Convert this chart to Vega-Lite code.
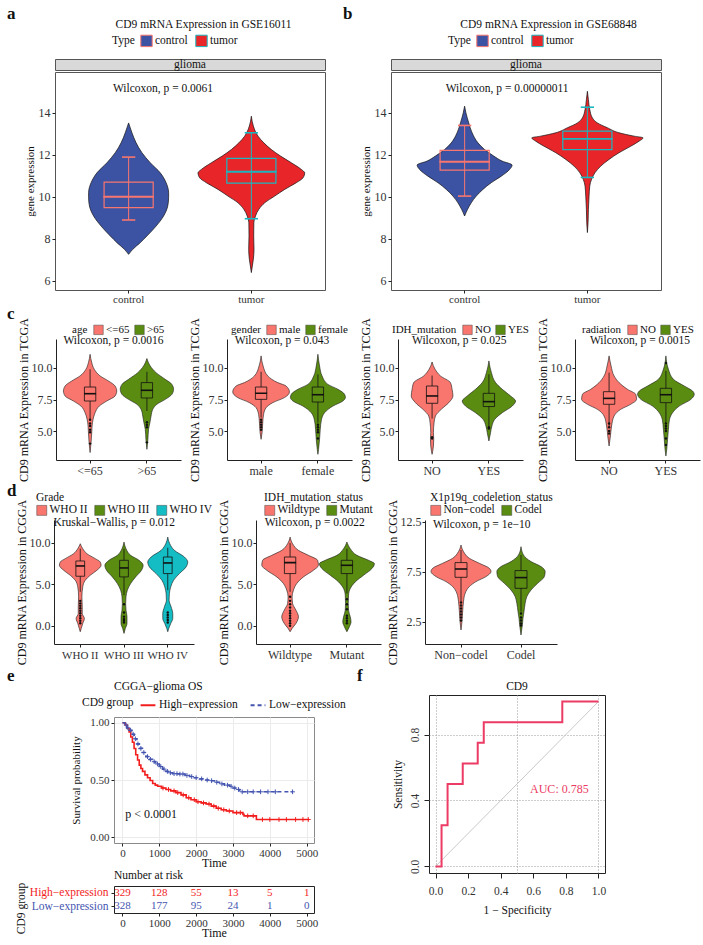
{
"$schema": "https://vega.github.io/schema/vega-lite/v6.json",
"background": "white",
"padding": {"left": 6, "top": 4, "right": 4, "bottom": 2},
"config": {
  "font": "Liberation Serif",
  "view": {"stroke": null},
  "axis": {"labelFont": "Liberation Serif", "titleFont": "Liberation Serif", "labelFontSize": 11.5, "titleFontSize": 11.5, "titleFontWeight": "normal", "labelColor": "#333333", "titleColor": "#111111", "domainColor": "#222222", "tickColor": "#222222", "grid": false, "labelPadding": 2, "titlePadding": 3, "tickSize": 3},
  "legend": {"labelFont": "Liberation Serif", "titleFont": "Liberation Serif", "labelFontSize": 11.5, "titleFontSize": 11.5, "titleFontWeight": "normal", "labelColor": "#111111", "titleColor": "#111111", "orient": "top", "direction": "horizontal", "titleOrient": "left", "padding": 0, "offset": 3, "columnPadding": 5, "labelOffset": 2, "titlePadding": 5, "layout": {"top": {"anchor": "middle"}}},
  "title": {"font": "Liberation Serif", "fontSize": 11.5, "fontWeight": "normal", "color": "#111111", "offset": 4},
  "text": {"font": "Liberation Serif", "color": "#111111"}
},
"datasets": {
  "sp": [{"s": ""}],
  "av": [
    {"g":"control","v":13.52,"w":0},{"g":"control","v":13.05,"w":6.7},{"g":"control","v":12.57,"w":15},{"g":"control","v":12.10,"w":26.7},{"g":"control","v":11.62,"w":43.3},{"g":"control","v":11.14,"w":63.3},{"g":"control","v":10.67,"w":75},{"g":"control","v":10.19,"w":80},{"g":"control","v":9.95,"w":80},{"g":"control","v":9.56,"w":78.3},{"g":"control","v":9.08,"w":70},{"g":"control","v":8.60,"w":55},{"g":"control","v":8.13,"w":36.7},{"g":"control","v":7.81,"w":23.3},{"g":"control","v":7.49,"w":8.3},{"g":"control","v":7.25,"w":0},
    {"g":"tumor","v":13.84,"w":0},{"g":"tumor","v":13.37,"w":4},{"g":"tumor","v":12.89,"w":13.3},{"g":"tumor","v":12.57,"w":25},{"g":"tumor","v":12.25,"w":40},{"g":"tumor","v":11.94,"w":58.3},{"g":"tumor","v":11.62,"w":80},{"g":"tumor","v":11.30,"w":100},{"g":"tumor","v":11.14,"w":106.7},{"g":"tumor","v":10.90,"w":103.3},{"g":"tumor","v":10.67,"w":90},{"g":"tumor","v":10.35,"w":66.7},{"g":"tumor","v":10.03,"w":46.7},{"g":"tumor","v":9.71,"w":26.7},{"g":"tumor","v":9.40,"w":15},{"g":"tumor","v":9.08,"w":8.3},{"g":"tumor","v":8.76,"w":5},{"g":"tumor","v":8.13,"w":4.7},{"g":"tumor","v":7.49,"w":5.3},{"g":"tumor","v":7.02,"w":4},{"g":"tumor","v":6.70,"w":2},{"g":"tumor","v":6.38,"w":0}
  ],
  "ab": [{"g":"control","lo":8.89,"q1":9.48,"med":10.0,"q3":10.70,"hi":11.89},{"g":"tumor","lo":8.95,"q1":10.65,"med":11.19,"q3":11.83,"hi":13.05}],
  "at": [{"label":"Wilcoxon, p = 0.0061","ly":15.14}],
  "bv": [
    {"g":"control","v":14.32,"w":0},{"g":"control","v":14.0,"w":2.7},{"g":"control","v":13.52,"w":8.3},{"g":"control","v":13.05,"w":15},{"g":"control","v":12.57,"w":26.7},{"g":"control","v":12.25,"w":40},{"g":"control","v":11.94,"w":58.3},{"g":"control","v":11.70,"w":75},{"g":"control","v":11.51,"w":95},{"g":"control","v":11.30,"w":90},{"g":"control","v":10.98,"w":73.3},{"g":"control","v":10.67,"w":53.3},{"g":"control","v":10.35,"w":36.7},{"g":"control","v":10.03,"w":23.3},{"g":"control","v":9.71,"w":13.3},{"g":"control","v":9.40,"w":6},{"g":"control","v":9.08,"w":0},
    {"g":"tumor","v":15.03,"w":0},{"g":"tumor","v":14.63,"w":2},{"g":"tumor","v":14.16,"w":4.7},{"g":"tumor","v":13.76,"w":10},{"g":"tumor","v":13.52,"w":20},{"g":"tumor","v":13.29,"w":40},{"g":"tumor","v":13.05,"w":63.3},{"g":"tumor","v":12.89,"w":93.3},{"g":"tumor","v":12.81,"w":111.3},{"g":"tumor","v":12.65,"w":103.3},{"g":"tumor","v":12.41,"w":86.7},{"g":"tumor","v":12.10,"w":63.3},{"g":"tumor","v":11.78,"w":43.3},{"g":"tumor","v":11.46,"w":26.7},{"g":"tumor","v":11.14,"w":15},{"g":"tumor","v":10.83,"w":8.3},{"g":"tumor","v":10.51,"w":4.7},{"g":"tumor","v":10.03,"w":3.3},{"g":"tumor","v":9.40,"w":2},{"g":"tumor","v":8.76,"w":1.3},{"g":"tumor","v":8.29,"w":0}
  ],
  "bb": [{"g":"control","lo":10.03,"q1":11.27,"med":11.67,"q3":12.21,"hi":13.40},{"g":"tumor","lo":10.92,"q1":12.25,"med":12.76,"q3":13.13,"hi":14.27}],
  "bt": [{"label":"Wilcoxon, p = 0.00000011","ly":15.14}],
  "c1v": [
    {"g":"<=65","v":11.09,"w":0},{"g":"<=65","v":10.43,"w":3.3},{"g":"<=65","v":9.90,"w":8.3},{"g":"<=65","v":9.37,"w":20},{"g":"<=65","v":8.97,"w":36.7},{"g":"<=65","v":8.57,"w":50},{"g":"<=65","v":8.17,"w":53.3},{"g":"<=65","v":7.78,"w":50},{"g":"<=65","v":7.38,"w":33.3},{"g":"<=65","v":6.98,"w":18.3},{"g":"<=65","v":6.45,"w":10},{"g":"<=65","v":5.93,"w":6},{"g":"<=65","v":5.40,"w":4},{"g":"<=65","v":4.87,"w":3.3},{"g":"<=65","v":4.08,"w":2},{"g":"<=65","v":3.29,"w":0},
    {"g":">65","v":10.75,"w":0},{"g":">65","v":10.16,"w":6.7},{"g":">65","v":9.63,"w":18.3},{"g":">65","v":9.10,"w":36.7},{"g":">65","v":8.70,"w":50},{"g":">65","v":8.31,"w":53.3},{"g":">65","v":7.91,"w":50},{"g":">65","v":7.51,"w":36.7},{"g":">65","v":7.12,"w":20},{"g":">65","v":6.72,"w":11.7},{"g":">65","v":6.19,"w":8.3},{"g":">65","v":5.66,"w":6},{"g":">65","v":5.13,"w":3.3},{"g":">65","v":4.34,"w":2},{"g":">65","v":3.55,"w":0}
  ],
  "c1b": [{"g":"<=65","lo":5.93,"q1":7.38,"med":7.96,"q3":8.49,"hi":9.9},{"g":">65","lo":6.59,"q1":7.62,"med":8.23,"q3":8.84,"hi":9.7}],
  "c1o": [{"g":"<=65","v":5.9},{"g":"<=65","v":5.6},{"g":"<=65","v":5.4},{"g":"<=65","v":5.1},{"g":"<=65","v":4.9},{"g":"<=65","v":4.0},{"g":">65","v":5.7},{"g":">65","v":5.5},{"g":">65","v":5.3},{"g":">65","v":4.1}],
  "c1t": [{"label":"Wilcoxon, p = 0.0016","ly":12.14}],
  "c2v": [
    {"g":"male","v":10.96,"w":0},{"g":"male","v":10.16,"w":4},{"g":"male","v":9.37,"w":13.3},{"g":"male","v":8.84,"w":33.3},{"g":"male","v":8.57,"w":50},{"g":"male","v":8.10,"w":56.7},{"g":"male","v":7.65,"w":46.7},{"g":"male","v":7.25,"w":23.3},{"g":"male","v":6.85,"w":10},{"g":"male","v":6.32,"w":5},{"g":"male","v":5.66,"w":3.3},{"g":"male","v":4.87,"w":2},{"g":"male","v":4.34,"w":0},
    {"g":"female","v":11.09,"w":0},{"g":"female","v":10.16,"w":3.3},{"g":"female","v":9.37,"w":8.3},{"g":"female","v":8.70,"w":20},{"g":"female","v":8.31,"w":40},{"g":"female","v":7.91,"w":53.3},{"g":"female","v":7.65,"w":55},{"g":"female","v":7.38,"w":50},{"g":"female","v":6.98,"w":30},{"g":"female","v":6.45,"w":13.3},{"g":"female","v":5.93,"w":7.3},{"g":"female","v":5.13,"w":4.7},{"g":"female","v":4.34,"w":3.3},{"g":"female","v":3.55,"w":1.3},{"g":"female","v":3.15,"w":0}
  ],
  "c2b": [{"g":"male","lo":6.06,"q1":7.51,"med":7.99,"q3":8.49,"hi":9.7},{"g":"female","lo":5.66,"q1":7.30,"med":7.88,"q3":8.49,"hi":9.5}],
  "c2o": [{"g":"male","v":5.9},{"g":"male","v":5.7},{"g":"male","v":5.5},{"g":"male","v":5.3},{"g":"male","v":5.1},{"g":"female","v":5.5},{"g":"female","v":5.3},{"g":"female","v":5.1},{"g":"female","v":4.9},{"g":"female","v":4.4}],
  "c2t": [{"label":"Wilcoxon, p = 0.043","ly":12.14}],
  "c3v": [
    {"g":"NO","v":10.48,"w":0},{"g":"NO","v":9.90,"w":6},{"g":"NO","v":9.37,"w":16.7},{"g":"NO","v":8.84,"w":36.7},{"g":"NO","v":8.31,"w":40},{"g":"NO","v":7.78,"w":41.7},{"g":"NO","v":7.25,"w":33.3},{"g":"NO","v":6.72,"w":18.3},{"g":"NO","v":6.19,"w":6.7},{"g":"NO","v":5.66,"w":4},{"g":"NO","v":4.87,"w":2.7},{"g":"NO","v":4.34,"w":3.3},{"g":"NO","v":3.81,"w":2.7},{"g":"NO","v":3.15,"w":0},
    {"g":"YES","v":10.56,"w":0},{"g":"YES","v":9.63,"w":5},{"g":"YES","v":8.84,"w":13.3},{"g":"YES","v":8.31,"w":26.7},{"g":"YES","v":7.78,"w":43.3},{"g":"YES","v":7.38,"w":53.3},{"g":"YES","v":6.98,"w":46.7},{"g":"YES","v":6.45,"w":26.7},{"g":"YES","v":5.93,"w":11.7},{"g":"YES","v":5.40,"w":6},{"g":"YES","v":4.87,"w":3.3},{"g":"YES","v":4.21,"w":0}
  ],
  "c3b": [{"g":"NO","lo":5.98,"q1":7.20,"med":7.78,"q3":8.57,"hi":9.4},{"g":"YES","lo":5.40,"q1":6.94,"med":7.33,"q3":7.99,"hi":9.5}],
  "c3o": [{"g":"NO","v":4.5},{"g":"NO","v":4.4},{"g":"YES","v":5.3},{"g":"YES","v":5.2}],
  "c3t": [{"label":"Wilcoxon, p = 0.025","ly":12.14}],
  "c4v": [
    {"g":"NO","v":10.96,"w":0},{"g":"NO","v":10.16,"w":4},{"g":"NO","v":9.37,"w":10},{"g":"NO","v":8.84,"w":20},{"g":"NO","v":8.31,"w":36.7},{"g":"NO","v":7.91,"w":53.3},{"g":"NO","v":7.51,"w":55},{"g":"NO","v":7.12,"w":43.3},{"g":"NO","v":6.72,"w":23.3},{"g":"NO","v":6.19,"w":10},{"g":"NO","v":5.40,"w":5},{"g":"NO","v":4.61,"w":2.7},{"g":"NO","v":3.81,"w":0},
    {"g":"YES","v":10.96,"w":0},{"g":"YES","v":9.90,"w":5},{"g":"YES","v":9.10,"w":15},{"g":"YES","v":8.57,"w":36.7},{"g":"YES","v":8.17,"w":53.3},{"g":"YES","v":7.91,"w":56.7},{"g":"YES","v":7.51,"w":50},{"g":"YES","v":6.98,"w":26.7},{"g":"YES","v":6.45,"w":13.3},{"g":"YES","v":5.93,"w":7.3},{"g":"YES","v":5.13,"w":5},{"g":"YES","v":4.34,"w":3.3},{"g":"YES","v":3.55,"w":1.7},{"g":"YES","v":3.02,"w":0}
  ],
  "c4b": [{"g":"NO","lo":5.40,"q1":7.12,"med":7.59,"q3":8.12,"hi":9.63},{"g":"YES","lo":5.66,"q1":7.25,"med":7.88,"q3":8.39,"hi":9.77}],
  "c4o": [{"g":"NO","v":5.6},{"g":"NO","v":5.3},{"g":"NO","v":5.0},{"g":"NO","v":4.8},{"g":"YES","v":5.6},{"g":"YES","v":5.4},{"g":"YES","v":5.2},{"g":"YES","v":5.0},{"g":"YES","v":4.4},{"g":"YES","v":3.9},{"g":"YES","v":10.4}],
  "c4t": [{"label":"Wilcoxon, p = 0.0015","ly":12.14}],
  "d1v": [
    {"g":"WHO II","v":9.89,"w":0},{"g":"WHO II","v":9.29,"w":5},{"g":"WHO II","v":8.69,"w":13.3},{"g":"WHO II","v":8.09,"w":30},{"g":"WHO II","v":7.69,"w":40},{"g":"WHO II","v":7.29,"w":41.7},{"g":"WHO II","v":6.69,"w":33.3},{"g":"WHO II","v":6.09,"w":20},{"g":"WHO II","v":5.49,"w":10},{"g":"WHO II","v":4.69,"w":5},{"g":"WHO II","v":3.49,"w":3.3},{"g":"WHO II","v":2.28,"w":4},{"g":"WHO II","v":1.48,"w":4},{"g":"WHO II","v":0.88,"w":8.3},{"g":"WHO II","v":0.28,"w":5},{"g":"WHO II","v":-0.32,"w":2},{"g":"WHO II","v":-0.72,"w":0},
    {"g":"WHO III","v":10.09,"w":0},{"g":"WHO III","v":9.29,"w":4},{"g":"WHO III","v":8.49,"w":13.3},{"g":"WHO III","v":7.89,"w":30},{"g":"WHO III","v":7.29,"w":38.3},{"g":"WHO III","v":6.69,"w":35},{"g":"WHO III","v":5.89,"w":23.3},{"g":"WHO III","v":5.09,"w":13.3},{"g":"WHO III","v":4.29,"w":6.7},{"g":"WHO III","v":3.49,"w":4},{"g":"WHO III","v":2.68,"w":3.3},{"g":"WHO III","v":1.88,"w":4},{"g":"WHO III","v":1.08,"w":6},{"g":"WHO III","v":0.28,"w":6},{"g":"WHO III","v":-0.32,"w":2.7},{"g":"WHO III","v":-0.92,"w":0},
    {"g":"WHO IV","v":10.69,"w":0},{"g":"WHO IV","v":9.89,"w":4},{"g":"WHO IV","v":9.09,"w":13.3},{"g":"WHO IV","v":8.29,"w":33.3},{"g":"WHO IV","v":7.69,"w":40},{"g":"WHO IV","v":7.09,"w":36.7},{"g":"WHO IV","v":6.29,"w":23.3},{"g":"WHO IV","v":5.49,"w":11.7},{"g":"WHO IV","v":4.69,"w":6},{"g":"WHO IV","v":3.89,"w":3.3},{"g":"WHO IV","v":3.09,"w":2.7},{"g":"WHO IV","v":2.28,"w":6.7},{"g":"WHO IV","v":1.48,"w":10},{"g":"WHO IV","v":0.88,"w":10},{"g":"WHO IV","v":0.28,"w":6},{"g":"WHO IV","v":-0.32,"w":2},{"g":"WHO IV","v":-0.72,"w":0}
  ],
  "d1b": [{"g":"WHO II","lo":4.09,"q1":5.97,"med":7.21,"q3":7.81,"hi":9.29},{"g":"WHO III","lo":3.69,"q1":5.89,"med":6.97,"q3":7.89,"hi":9.29},{"g":"WHO IV","lo":4.29,"q1":6.29,"med":7.57,"q3":8.29,"hi":9.41}],
  "d1o": [{"g":"WHO II","v":3.0},{"g":"WHO II","v":2.7},{"g":"WHO II","v":2.4},{"g":"WHO II","v":2.1},{"g":"WHO II","v":1.8},{"g":"WHO II","v":1.5},{"g":"WHO II","v":1.2},{"g":"WHO II","v":0.9},{"g":"WHO II","v":0.6},{"g":"WHO II","v":0.3},{"g":"WHO III","v":2.6},{"g":"WHO III","v":1.6},{"g":"WHO III","v":1.1},{"g":"WHO III","v":0.8},{"g":"WHO III","v":0.6},{"g":"WHO III","v":0.4},{"g":"WHO IV","v":1.6},{"g":"WHO IV","v":1.3},{"g":"WHO IV","v":1.0},{"g":"WHO IV","v":0.7},{"g":"WHO IV","v":0.4}],
  "d1t": [{"label":"Kruskal−Wallis, p = 0.012","ly":12.4}],
  "d2v": [
    {"g":"Wildtype","v":10.69,"w":0},{"g":"Wildtype","v":9.89,"w":5},{"g":"Wildtype","v":9.09,"w":16.7},{"g":"Wildtype","v":8.49,"w":36.7},{"g":"Wildtype","v":7.89,"w":55},{"g":"Wildtype","v":7.29,"w":56.7},{"g":"Wildtype","v":6.69,"w":46.7},{"g":"Wildtype","v":5.89,"w":26.7},{"g":"Wildtype","v":5.09,"w":13.3},{"g":"Wildtype","v":4.29,"w":6.7},{"g":"Wildtype","v":3.49,"w":4},{"g":"Wildtype","v":2.68,"w":5},{"g":"Wildtype","v":1.88,"w":11.7},{"g":"Wildtype","v":1.08,"w":16.7},{"g":"Wildtype","v":0.28,"w":11.7},{"g":"Wildtype","v":-0.32,"w":4},{"g":"Wildtype","v":-0.72,"w":0},
    {"g":"Mutant","v":10.09,"w":0},{"g":"Mutant","v":9.29,"w":6.7},{"g":"Mutant","v":8.49,"w":20},{"g":"Mutant","v":7.89,"w":43.3},{"g":"Mutant","v":7.49,"w":55},{"g":"Mutant","v":6.89,"w":50},{"g":"Mutant","v":6.09,"w":33.3},{"g":"Mutant","v":5.29,"w":16.7},{"g":"Mutant","v":4.49,"w":6.7},{"g":"Mutant","v":3.69,"w":3.3},{"g":"Mutant","v":2.68,"w":2.7},{"g":"Mutant","v":1.88,"w":3.3},{"g":"Mutant","v":1.08,"w":6.7},{"g":"Mutant","v":0.48,"w":8.3},{"g":"Mutant","v":-0.12,"w":5},{"g":"Mutant","v":-0.72,"w":0}
  ],
  "d2b": [{"g":"Wildtype","lo":4.09,"q1":6.29,"med":7.61,"q3":8.29,"hi":9.97},{"g":"Mutant","lo":3.89,"q1":6.29,"med":7.29,"q3":7.89,"hi":9.29}],
  "d2o": [{"g":"Wildtype","v":3.5},{"g":"Wildtype","v":3.0},{"g":"Wildtype","v":2.6},{"g":"Wildtype","v":2.2},{"g":"Wildtype","v":1.8},{"g":"Wildtype","v":1.5},{"g":"Wildtype","v":1.2},{"g":"Wildtype","v":0.9},{"g":"Wildtype","v":0.6},{"g":"Wildtype","v":0.3},{"g":"Wildtype","v":0.0},{"g":"Mutant","v":3.2},{"g":"Mutant","v":2.6},{"g":"Mutant","v":2.0},{"g":"Mutant","v":1.2},{"g":"Mutant","v":0.9},{"g":"Mutant","v":0.6},{"g":"Mutant","v":0.3}],
  "d2t": [{"label":"Wilcoxon, p = 0.0022","ly":12.4}],
  "d3v": [
    {"g":"Non−codel","v":10.16,"w":0},{"g":"Non−codel","v":9.50,"w":5},{"g":"Non−codel","v":8.83,"w":16.7},{"g":"Non−codel","v":8.33,"w":36.7},{"g":"Non−codel","v":7.83,"w":56.7},{"g":"Non−codel","v":7.50,"w":60},{"g":"Non−codel","v":7.0,"w":50},{"g":"Non−codel","v":6.50,"w":30},{"g":"Non−codel","v":6.0,"w":16.7},{"g":"Non−codel","v":5.33,"w":8.3},{"g":"Non−codel","v":4.50,"w":5},{"g":"Non−codel","v":3.50,"w":3.3},{"g":"Non−codel","v":2.50,"w":2},{"g":"Non−codel","v":1.66,"w":0},
    {"g":"Codel","v":9.99,"w":0},{"g":"Codel","v":9.16,"w":5},{"g":"Codel","v":8.50,"w":20},{"g":"Codel","v":8.0,"w":40},{"g":"Codel","v":7.50,"w":48.3},{"g":"Codel","v":7.0,"w":46.7},{"g":"Codel","v":6.33,"w":33.3},{"g":"Codel","v":5.66,"w":20},{"g":"Codel","v":5.0,"w":11.7},{"g":"Codel","v":4.33,"w":8.3},{"g":"Codel","v":3.50,"w":6},{"g":"Codel","v":2.83,"w":4},{"g":"Codel","v":2.16,"w":2.7},{"g":"Codel","v":1.16,"w":0}
  ],
  "d3b": [{"g":"Non−codel","lo":4.5,"q1":6.93,"med":7.76,"q3":8.40,"hi":9.66},{"g":"Codel","lo":3.5,"q1":5.83,"med":6.90,"q3":7.60,"hi":9.16}],
  "d3o": [{"g":"Non−codel","v":4.4},{"g":"Non−codel","v":4.1},{"g":"Non−codel","v":3.8},{"g":"Non−codel","v":3.5},{"g":"Non−codel","v":3.2},{"g":"Non−codel","v":2.9},{"g":"Non−codel","v":2.6},{"g":"Codel","v":3.3},{"g":"Codel","v":2.9},{"g":"Codel","v":2.6},{"g":"Codel","v":2.3},{"g":"Codel","v":2.1}],
  "d3t": [{"label":"Wilcoxon, p = 1e−10","ly":12.2}],
  "km": [
    {"grp":"High−expression","t":0,"s":1.0},{"grp":"High−expression","t":73,"s":0.98},{"grp":"High−expression","t":130,"s":0.95},{"grp":"High−expression","t":180,"s":0.92},{"grp":"High−expression","t":225,"s":0.875},{"grp":"High−expression","t":270,"s":0.83},{"grp":"High−expression","t":315,"s":0.775},{"grp":"High−expression","t":360,"s":0.72},{"grp":"High−expression","t":410,"s":0.675},{"grp":"High−expression","t":455,"s":0.63},{"grp":"High−expression","t":500,"s":0.60},{"grp":"High−expression","t":545,"s":0.575},{"grp":"High−expression","t":610,"s":0.545},{"grp":"High−expression","t":680,"s":0.52},{"grp":"High−expression","t":750,"s":0.495},{"grp":"High−expression","t":820,"s":0.47},{"grp":"High−expression","t":890,"s":0.455},{"grp":"High−expression","t":955,"s":0.445},{"grp":"High−expression","t":1060,"s":0.43},{"grp":"High−expression","t":1180,"s":0.417},{"grp":"High−expression","t":1310,"s":0.405},{"grp":"High−expression","t":1450,"s":0.39},{"grp":"High−expression","t":1590,"s":0.37},{"grp":"High−expression","t":1730,"s":0.345},{"grp":"High−expression","t":1860,"s":0.328},{"grp":"High−expression","t":2000,"s":0.31},{"grp":"High−expression","t":2135,"s":0.30},{"grp":"High−expression","t":2270,"s":0.29},{"grp":"High−expression","t":2410,"s":0.272},{"grp":"High−expression","t":2545,"s":0.253},{"grp":"High−expression","t":2680,"s":0.24},{"grp":"High−expression","t":2820,"s":0.23},{"grp":"High−expression","t":3000,"s":0.215},{"grp":"High−expression","t":3270,"s":0.20},{"grp":"High−expression","t":3300,"s":0.187},{"grp":"High−expression","t":3636,"s":0.155},{"grp":"High−expression","t":5045,"s":0.155},
    {"grp":"Low−expression","t":0,"s":1.0},{"grp":"Low−expression","t":60,"s":0.98},{"grp":"Low−expression","t":120,"s":0.955},{"grp":"Low−expression","t":180,"s":0.934},{"grp":"Low−expression","t":250,"s":0.90},{"grp":"Low−expression","t":320,"s":0.86},{"grp":"Low−expression","t":390,"s":0.815},{"grp":"Low−expression","t":455,"s":0.776},{"grp":"Low−expression","t":540,"s":0.74},{"grp":"Low−expression","t":636,"s":0.704},{"grp":"Low−expression","t":720,"s":0.68},{"grp":"Low−expression","t":818,"s":0.66},{"grp":"Low−expression","t":900,"s":0.64},{"grp":"Low−expression","t":1000,"s":0.618},{"grp":"Low−expression","t":1090,"s":0.595},{"grp":"Low−expression","t":1180,"s":0.575},{"grp":"Low−expression","t":1270,"s":0.563},{"grp":"Low−expression","t":1364,"s":0.555},{"grp":"Low−expression","t":1545,"s":0.552},{"grp":"Low−expression","t":1700,"s":0.54},{"grp":"Low−expression","t":1818,"s":0.53},{"grp":"Low−expression","t":1950,"s":0.52},{"grp":"Low−expression","t":2090,"s":0.51},{"grp":"Low−expression","t":2230,"s":0.50},{"grp":"Low−expression","t":2364,"s":0.494},{"grp":"Low−expression","t":2500,"s":0.48},{"grp":"Low−expression","t":2636,"s":0.466},{"grp":"Low−expression","t":2770,"s":0.455},{"grp":"Low−expression","t":2909,"s":0.445},{"grp":"Low−expression","t":3000,"s":0.43},{"grp":"Low−expression","t":3090,"s":0.417},{"grp":"Low−expression","t":3182,"s":0.397},{"grp":"Low−expression","t":4618,"s":0.397}
  ],
  "kmc": [
    {"grp":"High−expression","t":1100,"s":0.43},{"grp":"High−expression","t":1250,"s":0.417},{"grp":"High−expression","t":1400,"s":0.405},{"grp":"High−expression","t":1500,"s":0.39},{"grp":"High−expression","t":1650,"s":0.37},{"grp":"High−expression","t":1800,"s":0.345},{"grp":"High−expression","t":1950,"s":0.328},{"grp":"High−expression","t":2050,"s":0.31},{"grp":"High−expression","t":2200,"s":0.30},{"grp":"High−expression","t":2350,"s":0.29},{"grp":"High−expression","t":2480,"s":0.272},{"grp":"High−expression","t":2600,"s":0.253},{"grp":"High−expression","t":2750,"s":0.24},{"grp":"High−expression","t":2900,"s":0.23},{"grp":"High−expression","t":3100,"s":0.215},{"grp":"High−expression","t":3200,"s":0.215},{"grp":"High−expression","t":3400,"s":0.187},{"grp":"High−expression","t":3550,"s":0.187},{"grp":"High−expression","t":3800,"s":0.155},{"grp":"High−expression","t":4000,"s":0.155},{"grp":"High−expression","t":4250,"s":0.155},{"grp":"High−expression","t":4450,"s":0.155},{"grp":"High−expression","t":4700,"s":0.155},{"grp":"High−expression","t":4900,"s":0.155},{"grp":"High−expression","t":5045,"s":0.155},
    {"grp":"Low−expression","t":100,"s":0.98},{"grp":"Low−expression","t":150,"s":0.955},{"grp":"Low−expression","t":220,"s":0.934},{"grp":"Low−expression","t":290,"s":0.90},{"grp":"Low−expression","t":350,"s":0.86},{"grp":"Low−expression","t":420,"s":0.815},{"grp":"Low−expression","t":500,"s":0.776},{"grp":"Low−expression","t":580,"s":0.74},{"grp":"Low−expression","t":680,"s":0.704},{"grp":"Low−expression","t":760,"s":0.68},{"grp":"Low−expression","t":860,"s":0.66},{"grp":"Low−expression","t":950,"s":0.64},{"grp":"Low−expression","t":1040,"s":0.618},{"grp":"Low−expression","t":1130,"s":0.595},{"grp":"Low−expression","t":1220,"s":0.575},{"grp":"Low−expression","t":1300,"s":0.563},{"grp":"Low−expression","t":1400,"s":0.555},{"grp":"Low−expression","t":1480,"s":0.555},{"grp":"Low−expression","t":1560,"s":0.552},{"grp":"Low−expression","t":1640,"s":0.552},{"grp":"Low−expression","t":1750,"s":0.54},{"grp":"Low−expression","t":1880,"s":0.53},{"grp":"Low−expression","t":2000,"s":0.52},{"grp":"Low−expression","t":2150,"s":0.51},{"grp":"Low−expression","t":2300,"s":0.50},{"grp":"Low−expression","t":2420,"s":0.494},{"grp":"Low−expression","t":2560,"s":0.48},{"grp":"Low−expression","t":2700,"s":0.466},{"grp":"Low−expression","t":2850,"s":0.455},{"grp":"Low−expression","t":2950,"s":0.445},{"grp":"Low−expression","t":3050,"s":0.43},{"grp":"Low−expression","t":3150,"s":0.417},{"grp":"Low−expression","t":3250,"s":0.397},{"grp":"Low−expression","t":3400,"s":0.397},{"grp":"Low−expression","t":3550,"s":0.397},{"grp":"Low−expression","t":3750,"s":0.397},{"grp":"Low−expression","t":3950,"s":0.397},{"grp":"Low−expression","t":4150,"s":0.397},{"grp":"Low−expression","t":4618,"s":0.397}
  ],
  "kmp": [{"label":"p < 0.0001"}],
  "risk": [
    {"grp":"High−expression","t":0,"n":329},{"grp":"High−expression","t":1000,"n":128},{"grp":"High−expression","t":2000,"n":55},{"grp":"High−expression","t":3000,"n":13},{"grp":"High−expression","t":4000,"n":5},{"grp":"High−expression","t":5000,"n":1},
    {"grp":"Low−expression","t":0,"n":328},{"grp":"Low−expression","t":1000,"n":177},{"grp":"Low−expression","t":2000,"n":95},{"grp":"Low−expression","t":3000,"n":24},{"grp":"Low−expression","t":4000,"n":1},{"grp":"Low−expression","t":5000,"n":0}
  ],
  "roc": [{"fpr":0,"tpr":0},{"fpr":0.037,"tpr":0.25},{"fpr":0.074,"tpr":0.5},{"fpr":0.167,"tpr":0.625},{"fpr":0.259,"tpr":0.75},{"fpr":0.296,"tpr":0.875},{"fpr":0.778,"tpr":1},{"fpr":1,"tpr":1}],
  "diag": [{"fpr":0,"tpr":0},{"fpr":1,"tpr":1}],
  "auc": [{"label":"AUC: 0.785"}]
},
"spacing": 0,
"resolve": {"scale": {"color": "independent", "stroke": "independent", "strokeDash": "independent", "x": "independent", "y": "independent"}, "legend": {"color": "independent", "strokeDash": "independent"}},
"vconcat": [
{
  "spacing": 0,
  "resolve": {"scale": {"color": "independent", "stroke": "independent", "x": "independent", "y": "independent"}, "legend": {"color": "independent"}},
  "hconcat": [
  {"width": 1, "height": 1, "data": {"name": "sp"}, "mark": {"type": "text"}, "encoding": {"text": {"field": "s"}}},
  {
  "spacing": 17,
  "resolve": {"scale": {"color": "independent", "stroke": "independent", "x": "independent", "y": "independent"}, "legend": {"color": "independent"}},
  "hconcat": [
  {
    "title": {"text": "a", "anchor": "start", "frame": "group", "fontSize": 17, "fontWeight": "bold", "dx": -48, "offset": -4},
    "resolve": {"scale": {"color": "independent", "stroke": "independent"}, "legend": {"color": "independent"}},
    "vconcat": [{
      "title": {"text": "CD9 mRNA Expression in GSE16011", "anchor": "middle", "frame": "bounds", "dx": 29},
      "spacing": 0,
      "vconcat": [
        {"width": 270, "height": 11, "data": {"values": [{"s": "glioma"}]}, "mark": {"type": "text", "fontSize": 11.5}, "encoding": {"text": {"field": "s"}}, "view": {"fill": "#d9d9d9", "stroke": "#555555"}},
        {"width": 270, "height": 218, "view": {"stroke": "#555555"},
         "resolve": {"scale": {"x": "independent"}},
         "layer": [
          {"data": {"name": "av"}, "transform": [{"filter": {"field": "g", "equal": "control"}}],
           "mark": {"type": "area", "orient": "horizontal", "interpolate": "monotone", "stroke": "#111111", "strokeWidth": 0.7},
           "encoding": {
             "y": {"field": "v", "type": "quantitative", "scale": {"domain": [5.55, 15.95], "nice": false, "zero": false}, "axis": {"title": "gene expression", "values": [6, 8, 10, 12, 14], "domain": false, "labelFontSize": 12, "titleFontSize": 11}},
             "x": {"field": "w", "type": "quantitative", "stack": "center", "scale": {"domain": [-33.6, 236.4], "nice": false, "zero": false}, "axis": null},
             "color": {"field": "g", "type": "nominal", "scale": {"domain": ["control", "tumor"], "range": ["#3C53A4", "#E8262A"]}, "legend": {"title": "Type", "offset": 9, "symbolType": "square", "symbolSize": 130, "symbolStrokeColor": "#333333", "symbolStrokeWidth": 1}}
           }},
          {"data": {"name": "av"}, "transform": [{"filter": {"field": "g", "equal": "tumor"}}],
           "mark": {"type": "area", "orient": "horizontal", "interpolate": "monotone", "stroke": "#111111", "strokeWidth": 0.7},
           "encoding": {
             "y": {"field": "v", "type": "quantitative"},
             "x": {"field": "w", "type": "quantitative", "stack": "center", "scale": {"domain": [-143.0, 127.0], "nice": false, "zero": false}, "axis": null},
             "color": {"field": "g", "type": "nominal", "legend": {"title": "Type", "offset": 9, "symbolType": "square", "symbolSize": 130, "symbolStrokeColor": "#333333", "symbolStrokeWidth": 1}}
           }},
          {"data": {"name": "ab"},
           "layer": [
            {"mark": {"type": "rule", "strokeWidth": 1}, "encoding": {
              "x": {"field": "g", "type": "nominal", "sort": null, "scale": {"domain": ["control", "tumor"], "paddingInner": 0, "paddingOuter": 0.1}, "axis": {"title": null, "labelAngle": 0, "domain": false, "labelFontSize": 11, "labelPadding": 0}},
              "y": {"field": "lo", "type": "quantitative"}, "y2": {"field": "hi"},
              "stroke": {"field": "g", "type": "nominal", "scale": {"domain": ["control", "tumor"], "range": ["#F8766D", "#1BB6C0"]}, "legend": null}}},
            {"mark": {"type": "tick", "orient": "horizontal", "size": 12, "thickness": 0.3, "fillOpacity": 0, "opacity": 1, "strokeWidth": 1.3}, "encoding": {
              "x": {"field": "g", "type": "nominal", "sort": null},
              "y": {"field": "lo", "type": "quantitative"},
              "stroke": {"field": "g", "type": "nominal", "legend": null}}},
            {"mark": {"type": "tick", "orient": "horizontal", "size": 12, "thickness": 0.3, "fillOpacity": 0, "opacity": 1, "strokeWidth": 1.3}, "encoding": {
              "x": {"field": "g", "type": "nominal", "sort": null},
              "y": {"field": "hi", "type": "quantitative"},
              "stroke": {"field": "g", "type": "nominal", "legend": null}}},
            {"mark": {"type": "bar", "width": {"band": 0.4}, "fill": "transparent", "strokeWidth": 1.2}, "encoding": {
              "x": {"field": "g", "type": "nominal", "sort": null},
              "y": {"field": "q1", "type": "quantitative"}, "y2": {"field": "q3"},
              "stroke": {"field": "g", "type": "nominal", "legend": null}}},
            {"mark": {"type": "tick", "orient": "horizontal", "size": 49, "thickness": 0.3, "fillOpacity": 0, "opacity": 1, "strokeWidth": 1.6}, "encoding": {
              "x": {"field": "g", "type": "nominal", "sort": null},
              "y": {"field": "med", "type": "quantitative"},
              "stroke": {"field": "g", "type": "nominal", "legend": null}}}
           ]},
          {"data": {"name": "at"}, "mark": {"type": "text", "fontSize": 11.5},
           "encoding": {"x": {"datum": 0.40, "type": "quantitative", "scale": {"domain": [0, 1], "nice": false}, "axis": null}, "y": {"field": "ly", "type": "quantitative"}, "text": {"field": "label"}}}
         ]}
      ]
    }]
  },
  {
    "title": {"text": "b", "anchor": "start", "frame": "group", "fontSize": 17, "fontWeight": "bold", "dx": -48, "offset": -4},
    "resolve": {"scale": {"color": "independent", "stroke": "independent"}, "legend": {"color": "independent"}},
    "vconcat": [{
      "title": {"text": "CD9 mRNA Expression in GSE68848", "anchor": "middle", "frame": "bounds", "dx": 38},
      "spacing": 0,
      "vconcat": [
        {"width": 270, "height": 11, "data": {"values": [{"s": "glioma"}]}, "mark": {"type": "text", "fontSize": 11.5}, "encoding": {"text": {"field": "s"}}, "view": {"fill": "#d9d9d9", "stroke": "#555555"}},
        {"width": 270, "height": 218, "view": {"stroke": "#555555"},
         "resolve": {"scale": {"x": "independent"}},
         "layer": [
          {"data": {"name": "bv"}, "transform": [{"filter": {"field": "g", "equal": "control"}}],
           "mark": {"type": "area", "orient": "horizontal", "interpolate": "monotone", "stroke": "#111111", "strokeWidth": 0.7},
           "encoding": {
             "y": {"field": "v", "type": "quantitative", "scale": {"domain": [5.55, 15.95], "nice": false, "zero": false}, "axis": {"title": "gene expression", "values": [6, 8, 10, 12, 14], "domain": false, "labelFontSize": 12, "titleFontSize": 11}},
             "x": {"field": "w", "type": "quantitative", "stack": "center", "scale": {"domain": [-26.1, 243.9], "nice": false, "zero": false}, "axis": null},
             "color": {"field": "g", "type": "nominal", "scale": {"domain": ["control", "tumor"], "range": ["#3C53A4", "#E8262A"]}, "legend": {"title": "Type", "offset": 9, "symbolType": "square", "symbolSize": 130, "symbolStrokeColor": "#333333", "symbolStrokeWidth": 1}}
           }},
          {"data": {"name": "bv"}, "transform": [{"filter": {"field": "g", "equal": "tumor"}}],
           "mark": {"type": "area", "orient": "horizontal", "interpolate": "monotone", "stroke": "#111111", "strokeWidth": 0.7},
           "encoding": {
             "y": {"field": "v", "type": "quantitative"},
             "x": {"field": "w", "type": "quantitative", "stack": "center", "scale": {"domain": [-140.75, 129.25], "nice": false, "zero": false}, "axis": null},
             "color": {"field": "g", "type": "nominal", "legend": {"title": "Type", "offset": 9, "symbolType": "square", "symbolSize": 130, "symbolStrokeColor": "#333333", "symbolStrokeWidth": 1}}
           }},
          {"data": {"name": "bb"},
           "layer": [
            {"mark": {"type": "rule", "strokeWidth": 1}, "encoding": {
              "x": {"field": "g", "type": "nominal", "sort": null, "scale": {"domain": ["control", "tumor"], "paddingInner": 0, "paddingOuter": 0.1}, "axis": {"title": null, "labelAngle": 0, "domain": false, "labelFontSize": 11, "labelPadding": 0}},
              "y": {"field": "lo", "type": "quantitative"}, "y2": {"field": "hi"},
              "stroke": {"field": "g", "type": "nominal", "scale": {"domain": ["control", "tumor"], "range": ["#F8766D", "#1BB6C0"]}, "legend": null}}},
            {"mark": {"type": "tick", "orient": "horizontal", "size": 12, "thickness": 0.3, "fillOpacity": 0, "opacity": 1, "strokeWidth": 1.3}, "encoding": {
              "x": {"field": "g", "type": "nominal", "sort": null},
              "y": {"field": "lo", "type": "quantitative"},
              "stroke": {"field": "g", "type": "nominal", "legend": null}}},
            {"mark": {"type": "tick", "orient": "horizontal", "size": 12, "thickness": 0.3, "fillOpacity": 0, "opacity": 1, "strokeWidth": 1.3}, "encoding": {
              "x": {"field": "g", "type": "nominal", "sort": null},
              "y": {"field": "hi", "type": "quantitative"},
              "stroke": {"field": "g", "type": "nominal", "legend": null}}},
            {"mark": {"type": "bar", "width": {"band": 0.4}, "fill": "transparent", "strokeWidth": 1.2}, "encoding": {
              "x": {"field": "g", "type": "nominal", "sort": null},
              "y": {"field": "q1", "type": "quantitative"}, "y2": {"field": "q3"},
              "stroke": {"field": "g", "type": "nominal", "legend": null}}},
            {"mark": {"type": "tick", "orient": "horizontal", "size": 49, "thickness": 0.3, "fillOpacity": 0, "opacity": 1, "strokeWidth": 1.6}, "encoding": {
              "x": {"field": "g", "type": "nominal", "sort": null},
              "y": {"field": "med", "type": "quantitative"},
              "stroke": {"field": "g", "type": "nominal", "legend": null}}}
           ]},
          {"data": {"name": "bt"}, "mark": {"type": "text", "fontSize": 11.5},
           "encoding": {"x": {"datum": 0.43, "type": "quantitative", "scale": {"domain": [0, 1], "nice": false}, "axis": null}, "y": {"field": "ly", "type": "quantitative"}, "text": {"field": "label"}}}
         ]}
      ]
    }]
  }
  ]}
  ]
},
{
  "spacing": 0,
  "resolve": {"scale": {"color": "independent", "x": "independent", "y": "independent"}, "legend": {"color": "independent"}},
  "hconcat": [
  {"width": 1, "height": 1, "data": {"name": "sp"}, "mark": {"type": "text"}, "encoding": {"text": {"field": "s"}}},
  {
  "title": {"text": "c", "anchor": "start", "frame": "group", "fontSize": 17, "fontWeight": "bold", "dx": -49, "offset": -6},
  "spacing": 6,
  "resolve": {"scale": {"color": "independent", "x": "independent", "y": "independent"}, "legend": {"color": "independent"}},
  "hconcat": [
    {"width": 125, "height": 121, "resolve": {"scale": {"x": "independent"}},
     "layer": [
      {"data": {"name": "c1v"}, "transform": [{"filter": {"field": "g", "equal": "<=65"}}],
       "mark": {"type": "area", "orient": "horizontal", "interpolate": "monotone", "stroke": "#1a1a1a", "strokeWidth": 0.6},
       "encoding": {
         "y": {"field": "v", "type": "quantitative", "scale": {"domain": [2.7, 12.3], "nice": false, "zero": false}, "axis": {"title": "CD9 mRNA Expression in TCGA", "values": [5, 7.5, 10], "format": ".1f", "labelFontSize": 12, "titleFontSize": 12, "titlePadding": 1, "labelPadding": 1}},
         "x": {"field": "w", "type": "quantitative", "stack": "center", "scale": {"domain": [-7.44, 117.56], "nice": false, "zero": false}, "axis": null},
         "color": {"field": "g", "type": "nominal", "scale": {"domain": ["<=65", ">65"], "range": ["#F8766D", "#5B8C12"]}, "legend": {"title": "age", "labelFontSize": 11, "titleFontSize": 11, "columnPadding": 3, "symbolType": "square", "symbolSize": 90, "symbolStrokeColor": "#444444", "symbolStrokeWidth": 0.5}}}},
      {"data": {"name": "c1v"}, "transform": [{"filter": {"field": "g", "equal": ">65"}}],
       "mark": {"type": "area", "orient": "horizontal", "interpolate": "monotone", "stroke": "#1a1a1a", "strokeWidth": 0.6},
       "encoding": {
         "y": {"field": "v", "type": "quantitative"},
         "x": {"field": "w", "type": "quantitative", "stack": "center", "scale": {"domain": [-64.26, 60.74], "nice": false, "zero": false}, "axis": null},
         "color": {"field": "g", "type": "nominal", "legend": {"title": "age", "labelFontSize": 11, "titleFontSize": 11, "columnPadding": 3, "symbolType": "square", "symbolSize": 90, "symbolStrokeColor": "#444444", "symbolStrokeWidth": 0.5}}}},
      {"layer": [
        {"data": {"name": "c1b"}, "mark": {"type": "rule", "color": "#111111", "strokeWidth": 0.8}, "encoding": {
          "x": {"field": "g", "type": "nominal", "sort": null, "scale": {"domain": ["<=65", ">65"], "paddingInner": 0, "paddingOuter": 0.1}, "axis": {"title": null, "labelAngle": 0, "labelFontSize": 12}},
          "y": {"field": "lo", "type": "quantitative"}, "y2": {"field": "hi"}}},
        {"data": {"name": "c1b"}, "mark": {"type": "bar", "width": {"band": 0.2}, "stroke": "#111111", "strokeWidth": 0.8}, "encoding": {
          "x": {"field": "g", "type": "nominal", "sort": null},
          "y": {"field": "q1", "type": "quantitative"}, "y2": {"field": "q3"},
          "color": {"field": "g", "type": "nominal", "legend": null}}},
        {"data": {"name": "c1b"}, "mark": {"type": "tick", "orient": "horizontal", "size": 12, "thickness": 1.6, "color": "#111111", "opacity": 1}, "encoding": {
          "x": {"field": "g", "type": "nominal", "sort": null},
          "y": {"field": "med", "type": "quantitative"}}},
        {"data": {"name": "c1o"}, "mark": {"type": "point", "filled": true, "size": 6, "color": "#111111", "opacity": 1}, "encoding": {
          "x": {"field": "g", "type": "nominal", "sort": null},
          "y": {"field": "v", "type": "quantitative"}}}
      ]},
      {"data": {"name": "c1t"}, "mark": {"type": "text", "fontSize": 11.5},
       "encoding": {"x": {"datum": 0.46, "type": "quantitative", "scale": {"domain": [0, 1], "nice": false}, "axis": null}, "y": {"field": "ly", "type": "quantitative"}, "text": {"field": "label"}}}
     ]},
    {"width": 125, "height": 121, "resolve": {"scale": {"x": "independent"}},
     "layer": [
      {"data": {"name": "c2v"}, "transform": [{"filter": {"field": "g", "equal": "male"}}],
       "mark": {"type": "area", "orient": "horizontal", "interpolate": "monotone", "stroke": "#1a1a1a", "strokeWidth": 0.6},
       "encoding": {
         "y": {"field": "v", "type": "quantitative", "scale": {"domain": [2.7, 12.3], "nice": false, "zero": false}, "axis": {"title": "CD9 mRNA Expression in TCGA", "values": [5, 7.5, 10], "format": ".1f", "labelFontSize": 12, "titleFontSize": 12, "titlePadding": 1, "labelPadding": 1}},
         "x": {"field": "w", "type": "quantitative", "stack": "center", "scale": {"domain": [-5.74, 119.26], "nice": false, "zero": false}, "axis": null},
         "color": {"field": "g", "type": "nominal", "scale": {"domain": ["male", "female"], "range": ["#F8766D", "#5B8C12"]}, "legend": {"title": "gender", "labelFontSize": 11, "titleFontSize": 11, "columnPadding": 3, "symbolType": "square", "symbolSize": 90, "symbolStrokeColor": "#444444", "symbolStrokeWidth": 0.5}}}},
      {"data": {"name": "c2v"}, "transform": [{"filter": {"field": "g", "equal": "female"}}],
       "mark": {"type": "area", "orient": "horizontal", "interpolate": "monotone", "stroke": "#1a1a1a", "strokeWidth": 0.6},
       "encoding": {
         "y": {"field": "v", "type": "quantitative"},
         "x": {"field": "w", "type": "quantitative", "stack": "center", "scale": {"domain": [-63.41, 61.59], "nice": false, "zero": false}, "axis": null},
         "color": {"field": "g", "type": "nominal", "legend": {"title": "gender", "labelFontSize": 11, "titleFontSize": 11, "columnPadding": 3, "symbolType": "square", "symbolSize": 90, "symbolStrokeColor": "#444444", "symbolStrokeWidth": 0.5}}}},
      {"layer": [
        {"data": {"name": "c2b"}, "mark": {"type": "rule", "color": "#111111", "strokeWidth": 0.8}, "encoding": {
          "x": {"field": "g", "type": "nominal", "sort": null, "scale": {"domain": ["male", "female"], "paddingInner": 0, "paddingOuter": 0.1}, "axis": {"title": null, "labelAngle": 0, "labelFontSize": 12}},
          "y": {"field": "lo", "type": "quantitative"}, "y2": {"field": "hi"}}},
        {"data": {"name": "c2b"}, "mark": {"type": "bar", "width": {"band": 0.2}, "stroke": "#111111", "strokeWidth": 0.8}, "encoding": {
          "x": {"field": "g", "type": "nominal", "sort": null},
          "y": {"field": "q1", "type": "quantitative"}, "y2": {"field": "q3"},
          "color": {"field": "g", "type": "nominal", "legend": null}}},
        {"data": {"name": "c2b"}, "mark": {"type": "tick", "orient": "horizontal", "size": 12, "thickness": 1.6, "color": "#111111", "opacity": 1}, "encoding": {
          "x": {"field": "g", "type": "nominal", "sort": null},
          "y": {"field": "med", "type": "quantitative"}}},
        {"data": {"name": "c2o"}, "mark": {"type": "point", "filled": true, "size": 6, "color": "#111111", "opacity": 1}, "encoding": {
          "x": {"field": "g", "type": "nominal", "sort": null},
          "y": {"field": "v", "type": "quantitative"}}}
      ]},
      {"data": {"name": "c2t"}, "mark": {"type": "text", "fontSize": 11.5},
       "encoding": {"x": {"datum": 0.44, "type": "quantitative", "scale": {"domain": [0, 1], "nice": false}, "axis": null}, "y": {"field": "ly", "type": "quantitative"}, "text": {"field": "label"}}}
     ]},
    {"width": 125, "height": 121, "resolve": {"scale": {"x": "independent"}},
     "layer": [
      {"data": {"name": "c3v"}, "transform": [{"filter": {"field": "g", "equal": "NO"}}],
       "mark": {"type": "area", "orient": "horizontal", "interpolate": "monotone", "stroke": "#1a1a1a", "strokeWidth": 0.6},
       "encoding": {
         "y": {"field": "v", "type": "quantitative", "scale": {"domain": [2.7, 12.3], "nice": false, "zero": false}, "axis": {"title": "CD9 mRNA Expression in TCGA", "values": [5, 7.5, 10], "format": ".1f", "labelFontSize": 12, "titleFontSize": 12, "titlePadding": 1, "labelPadding": 1}},
         "x": {"field": "w", "type": "quantitative", "stack": "center", "scale": {"domain": [-13.24, 111.76], "nice": false, "zero": false}, "axis": null},
         "color": {"field": "g", "type": "nominal", "scale": {"domain": ["NO", "YES"], "range": ["#F8766D", "#5B8C12"]}, "legend": {"title": "IDH_mutation", "labelFontSize": 11, "titleFontSize": 11, "columnPadding": 3, "symbolType": "square", "symbolSize": 90, "symbolStrokeColor": "#444444", "symbolStrokeWidth": 0.5}}}},
      {"data": {"name": "c3v"}, "transform": [{"filter": {"field": "g", "equal": "YES"}}],
       "mark": {"type": "area", "orient": "horizontal", "interpolate": "monotone", "stroke": "#1a1a1a", "strokeWidth": 0.6},
       "encoding": {
         "y": {"field": "v", "type": "quantitative"},
         "x": {"field": "w", "type": "quantitative", "stack": "center", "scale": {"domain": [-64.26, 60.74], "nice": false, "zero": false}, "axis": null},
         "color": {"field": "g", "type": "nominal", "legend": {"title": "IDH_mutation", "labelFontSize": 11, "titleFontSize": 11, "columnPadding": 3, "symbolType": "square", "symbolSize": 90, "symbolStrokeColor": "#444444", "symbolStrokeWidth": 0.5}}}},
      {"layer": [
        {"data": {"name": "c3b"}, "mark": {"type": "rule", "color": "#111111", "strokeWidth": 0.8}, "encoding": {
          "x": {"field": "g", "type": "nominal", "sort": null, "scale": {"domain": ["NO", "YES"], "paddingInner": 0, "paddingOuter": 0.1}, "axis": {"title": null, "labelAngle": 0, "labelFontSize": 12}},
          "y": {"field": "lo", "type": "quantitative"}, "y2": {"field": "hi"}}},
        {"data": {"name": "c3b"}, "mark": {"type": "bar", "width": {"band": 0.2}, "stroke": "#111111", "strokeWidth": 0.8}, "encoding": {
          "x": {"field": "g", "type": "nominal", "sort": null},
          "y": {"field": "q1", "type": "quantitative"}, "y2": {"field": "q3"},
          "color": {"field": "g", "type": "nominal", "legend": null}}},
        {"data": {"name": "c3b"}, "mark": {"type": "tick", "orient": "horizontal", "size": 12, "thickness": 1.6, "color": "#111111", "opacity": 1}, "encoding": {
          "x": {"field": "g", "type": "nominal", "sort": null},
          "y": {"field": "med", "type": "quantitative"}}},
        {"data": {"name": "c3o"}, "mark": {"type": "point", "filled": true, "size": 6, "color": "#111111", "opacity": 1}, "encoding": {
          "x": {"field": "g", "type": "nominal", "sort": null},
          "y": {"field": "v", "type": "quantitative"}}}
      ]},
      {"data": {"name": "c3t"}, "mark": {"type": "text", "fontSize": 11.5},
       "encoding": {"x": {"datum": 0.49, "type": "quantitative", "scale": {"domain": [0, 1], "nice": false}, "axis": null}, "y": {"field": "ly", "type": "quantitative"}, "text": {"field": "label"}}}
     ]},
    {"width": 125, "height": 121, "resolve": {"scale": {"x": "independent"}},
     "layer": [
      {"data": {"name": "c4v"}, "transform": [{"filter": {"field": "g", "equal": "NO"}}],
       "mark": {"type": "area", "orient": "horizontal", "interpolate": "monotone", "stroke": "#1a1a1a", "strokeWidth": 0.6},
       "encoding": {
         "y": {"field": "v", "type": "quantitative", "scale": {"domain": [2.7, 12.3], "nice": false, "zero": false}, "axis": {"title": "CD9 mRNA Expression in TCGA", "values": [5, 7.5, 10], "format": ".1f", "labelFontSize": 12, "titleFontSize": 12, "titlePadding": 1, "labelPadding": 1}},
         "x": {"field": "w", "type": "quantitative", "stack": "center", "scale": {"domain": [-6.59, 118.41], "nice": false, "zero": false}, "axis": null},
         "color": {"field": "g", "type": "nominal", "scale": {"domain": ["NO", "YES"], "range": ["#F8766D", "#5B8C12"]}, "legend": {"title": "radiation", "labelFontSize": 11, "titleFontSize": 11, "columnPadding": 3, "symbolType": "square", "symbolSize": 90, "symbolStrokeColor": "#444444", "symbolStrokeWidth": 0.5}}}},
      {"data": {"name": "c4v"}, "transform": [{"filter": {"field": "g", "equal": "YES"}}],
       "mark": {"type": "area", "orient": "horizontal", "interpolate": "monotone", "stroke": "#1a1a1a", "strokeWidth": 0.6},
       "encoding": {
         "y": {"field": "v", "type": "quantitative"},
         "x": {"field": "w", "type": "quantitative", "stack": "center", "scale": {"domain": [-62.56, 62.44], "nice": false, "zero": false}, "axis": null},
         "color": {"field": "g", "type": "nominal", "legend": {"title": "radiation", "labelFontSize": 11, "titleFontSize": 11, "columnPadding": 3, "symbolType": "square", "symbolSize": 90, "symbolStrokeColor": "#444444", "symbolStrokeWidth": 0.5}}}},
      {"layer": [
        {"data": {"name": "c4b"}, "mark": {"type": "rule", "color": "#111111", "strokeWidth": 0.8}, "encoding": {
          "x": {"field": "g", "type": "nominal", "sort": null, "scale": {"domain": ["NO", "YES"], "paddingInner": 0, "paddingOuter": 0.1}, "axis": {"title": null, "labelAngle": 0, "labelFontSize": 12}},
          "y": {"field": "lo", "type": "quantitative"}, "y2": {"field": "hi"}}},
        {"data": {"name": "c4b"}, "mark": {"type": "bar", "width": {"band": 0.2}, "stroke": "#111111", "strokeWidth": 0.8}, "encoding": {
          "x": {"field": "g", "type": "nominal", "sort": null},
          "y": {"field": "q1", "type": "quantitative"}, "y2": {"field": "q3"},
          "color": {"field": "g", "type": "nominal", "legend": null}}},
        {"data": {"name": "c4b"}, "mark": {"type": "tick", "orient": "horizontal", "size": 12, "thickness": 1.6, "color": "#111111", "opacity": 1}, "encoding": {
          "x": {"field": "g", "type": "nominal", "sort": null},
          "y": {"field": "med", "type": "quantitative"}}},
        {"data": {"name": "c4o"}, "mark": {"type": "point", "filled": true, "size": 6, "color": "#111111", "opacity": 1}, "encoding": {
          "x": {"field": "g", "type": "nominal", "sort": null},
          "y": {"field": "v", "type": "quantitative"}}}
      ]},
      {"data": {"name": "c4t"}, "mark": {"type": "text", "fontSize": 11.5},
       "encoding": {"x": {"datum": 0.52, "type": "quantitative", "scale": {"domain": [0, 1], "nice": false}, "axis": null}, "y": {"field": "ly", "type": "quantitative"}, "text": {"field": "label"}}}
     ]}
  ]}
  ]
},
{
  "spacing": 0,
  "resolve": {"scale": {"color": "independent", "x": "independent", "y": "independent"}, "legend": {"color": "independent"}},
  "hconcat": [
  {"width": 1, "height": 1, "data": {"name": "sp"}, "mark": {"type": "text"}, "encoding": {"text": {"field": "s"}}},
  {
  "title": {"text": "d", "anchor": "start", "frame": "group", "fontSize": 17, "fontWeight": "bold", "dx": -47, "offset": -8},
  "spacing": 4,
  "resolve": {"scale": {"color": "independent", "x": "independent", "y": "independent"}, "legend": {"color": "independent"}},
  "hconcat": [
    {"width": 140, "height": 124, "resolve": {"scale": {"x": "independent"}},
     "layer": [
      {"data": {"name": "d1v"}, "transform": [{"filter": {"field": "g", "equal": "WHO II"}}],
       "mark": {"type": "area", "orient": "horizontal", "interpolate": "monotone", "stroke": "#1a1a1a", "strokeWidth": 0.6},
       "encoding": {
         "y": {"field": "v", "type": "quantitative", "scale": {"domain": [-2.2, 12.75], "nice": false, "zero": false}, "axis": {"title": "CD9 mRNA Expression in CGGA", "values": [0, 2.5, 5, 7.5, 10, 12.5], "format": ".1f", "labelFontSize": 12, "titleFontSize": 12, "titlePadding": 1, "labelPadding": 1}},
         "x": {"field": "w", "type": "quantitative", "stack": "center", "scale": {"domain": [-5.4, 134.6], "nice": false, "zero": false}, "axis": null},
         "color": {"field": "g", "type": "nominal", "scale": {"domain": ["WHO II", "WHO III", "WHO IV"], "range": ["#F8766D", "#5B8C12", "#14BCC4"]}, "legend": {"title": "Grade", "titleOrient": "top", "titleAnchor": "start", "titlePadding": 1, "symbolType": "square", "symbolSize": 100, "symbolStrokeColor": "#444444", "symbolStrokeWidth": 0.5}}}},
      {"data": {"name": "d1v"}, "transform": [{"filter": {"field": "g", "equal": "WHO III"}}],
       "mark": {"type": "area", "orient": "horizontal", "interpolate": "monotone", "stroke": "#1a1a1a", "strokeWidth": 0.6},
       "encoding": {
         "y": {"field": "v", "type": "quantitative"},
         "x": {"field": "w", "type": "quantitative", "stack": "center", "scale": {"domain": [-50.85, 89.15], "nice": false, "zero": false}, "axis": null},
         "color": {"field": "g", "type": "nominal", "legend": {"title": "Grade", "titleOrient": "top", "titleAnchor": "start", "titlePadding": 1, "symbolType": "square", "symbolSize": 100, "symbolStrokeColor": "#444444", "symbolStrokeWidth": 0.5}}}},
      {"data": {"name": "d1v"}, "transform": [{"filter": {"field": "g", "equal": "WHO IV"}}],
       "mark": {"type": "area", "orient": "horizontal", "interpolate": "monotone", "stroke": "#1a1a1a", "strokeWidth": 0.6},
       "encoding": {
         "y": {"field": "v", "type": "quantitative"},
         "x": {"field": "w", "type": "quantitative", "stack": "center", "scale": {"domain": [-93.75, 46.25], "nice": false, "zero": false}, "axis": null},
         "color": {"field": "g", "type": "nominal", "legend": {"title": "Grade", "titleOrient": "top", "titleAnchor": "start", "titlePadding": 1, "symbolType": "square", "symbolSize": 100, "symbolStrokeColor": "#444444", "symbolStrokeWidth": 0.5}}}},
      {"layer": [
        {"data": {"name": "d1b"}, "mark": {"type": "rule", "color": "#111111", "strokeWidth": 0.8}, "encoding": {
          "x": {"field": "g", "type": "nominal", "sort": null, "scale": {"domain": ["WHO II", "WHO III", "WHO IV"], "paddingInner": 0, "paddingOuter": 0.1}, "axis": {"title": null, "labelAngle": 0, "labelFontSize": 11}},
          "y": {"field": "lo", "type": "quantitative"}, "y2": {"field": "hi"}}},
        {"data": {"name": "d1b"}, "mark": {"type": "bar", "width": {"band": 0.2}, "stroke": "#111111", "strokeWidth": 0.8}, "encoding": {
          "x": {"field": "g", "type": "nominal", "sort": null},
          "y": {"field": "q1", "type": "quantitative"}, "y2": {"field": "q3"},
          "color": {"field": "g", "type": "nominal", "legend": null}}},
        {"data": {"name": "d1b"}, "mark": {"type": "tick", "orient": "horizontal", "size": 9, "thickness": 1.6, "color": "#111111", "opacity": 1}, "encoding": {
          "x": {"field": "g", "type": "nominal", "sort": null},
          "y": {"field": "med", "type": "quantitative"}}},
        {"data": {"name": "d1o"}, "mark": {"type": "point", "filled": true, "size": 6, "color": "#111111", "opacity": 1}, "encoding": {
          "x": {"field": "g", "type": "nominal", "sort": null},
          "y": {"field": "v", "type": "quantitative"}}}
      ]},
      {"data": {"name": "d1t"}, "mark": {"type": "text", "fontSize": 11.5},
       "encoding": {"x": {"datum": 0.43, "type": "quantitative", "scale": {"domain": [0, 1], "nice": false}, "axis": null}, "y": {"field": "ly", "type": "quantitative"}, "text": {"field": "label"}}}
     ]},
    {"width": 125, "height": 124, "resolve": {"scale": {"x": "independent"}},
     "layer": [
      {"data": {"name": "d2v"}, "transform": [{"filter": {"field": "g", "equal": "Wildtype"}}],
       "mark": {"type": "area", "orient": "horizontal", "interpolate": "monotone", "stroke": "#1a1a1a", "strokeWidth": 0.6},
       "encoding": {
         "y": {"field": "v", "type": "quantitative", "scale": {"domain": [-2.2, 12.75], "nice": false, "zero": false}, "axis": {"title": "CD9 mRNA Expression in CGGA", "values": [0, 2.5, 5, 7.5, 10, 12.5], "format": ".1f", "labelFontSize": 12, "titleFontSize": 12, "titlePadding": 1, "labelPadding": 1}},
         "x": {"field": "w", "type": "quantitative", "stack": "center", "scale": {"domain": [-5.75, 119.25], "nice": false, "zero": false}, "axis": null},
         "color": {"field": "g", "type": "nominal", "scale": {"domain": ["Wildtype", "Mutant"], "range": ["#F8766D", "#5B8C12"]}, "legend": {"title": "IDH_mutation_status", "titleOrient": "top", "titleAnchor": "start", "titlePadding": 1, "symbolType": "square", "symbolSize": 100, "symbolStrokeColor": "#444444", "symbolStrokeWidth": 0.5}}}},
      {"data": {"name": "d2v"}, "transform": [{"filter": {"field": "g", "equal": "Mutant"}}],
       "mark": {"type": "area", "orient": "horizontal", "interpolate": "monotone", "stroke": "#1a1a1a", "strokeWidth": 0.6},
       "encoding": {
         "y": {"field": "v", "type": "quantitative"},
         "x": {"field": "w", "type": "quantitative", "stack": "center", "scale": {"domain": [-63.4, 61.6], "nice": false, "zero": false}, "axis": null},
         "color": {"field": "g", "type": "nominal", "legend": {"title": "IDH_mutation_status", "titleOrient": "top", "titleAnchor": "start", "titlePadding": 1, "symbolType": "square", "symbolSize": 100, "symbolStrokeColor": "#444444", "symbolStrokeWidth": 0.5}}}},
      {"layer": [
        {"data": {"name": "d2b"}, "mark": {"type": "rule", "color": "#111111", "strokeWidth": 0.8}, "encoding": {
          "x": {"field": "g", "type": "nominal", "sort": null, "scale": {"domain": ["Wildtype", "Mutant"], "paddingInner": 0, "paddingOuter": 0.1}, "axis": {"title": null, "labelAngle": 0, "labelFontSize": 12}},
          "y": {"field": "lo", "type": "quantitative"}, "y2": {"field": "hi"}}},
        {"data": {"name": "d2b"}, "mark": {"type": "bar", "width": {"band": 0.2}, "stroke": "#111111", "strokeWidth": 0.8}, "encoding": {
          "x": {"field": "g", "type": "nominal", "sort": null},
          "y": {"field": "q1", "type": "quantitative"}, "y2": {"field": "q3"},
          "color": {"field": "g", "type": "nominal", "legend": null}}},
        {"data": {"name": "d2b"}, "mark": {"type": "tick", "orient": "horizontal", "size": 12, "thickness": 1.6, "color": "#111111", "opacity": 1}, "encoding": {
          "x": {"field": "g", "type": "nominal", "sort": null},
          "y": {"field": "med", "type": "quantitative"}}},
        {"data": {"name": "d2o"}, "mark": {"type": "point", "filled": true, "size": 6, "color": "#111111", "opacity": 1}, "encoding": {
          "x": {"field": "g", "type": "nominal", "sort": null},
          "y": {"field": "v", "type": "quantitative"}}}
      ]},
      {"data": {"name": "d2t"}, "mark": {"type": "text", "fontSize": 11.5},
       "encoding": {"x": {"datum": 0.47, "type": "quantitative", "scale": {"domain": [0, 1], "nice": false}, "axis": null}, "y": {"field": "ly", "type": "quantitative"}, "text": {"field": "label"}}}
     ]},
    {"width": 132, "height": 124, "resolve": {"scale": {"x": "independent"}},
     "layer": [
      {"data": {"name": "d3v"}, "transform": [{"filter": {"field": "g", "equal": "Non−codel"}}],
       "mark": {"type": "area", "orient": "horizontal", "interpolate": "monotone", "stroke": "#1a1a1a", "strokeWidth": 0.6},
       "encoding": {
         "y": {"field": "v", "type": "quantitative", "scale": {"domain": [0.26, 12.66], "nice": false, "zero": false}, "axis": {"title": "CD9 mRNA Expression in CGGA", "values": [2.5, 5, 7.5, 10, 12.5], "format": ".1f", "labelFontSize": 12, "titleFontSize": 12, "titlePadding": 1, "labelPadding": 1}},
         "x": {"field": "w", "type": "quantitative", "stack": "center", "scale": {"domain": [-6, 126], "nice": false, "zero": false}, "axis": null},
         "color": {"field": "g", "type": "nominal", "scale": {"domain": ["Non−codel", "Codel"], "range": ["#F8766D", "#5B8C12"]}, "legend": {"title": "X1p19q_codeletion_status", "titleOrient": "top", "titleAnchor": "start", "titlePadding": 1, "symbolType": "square", "symbolSize": 100, "symbolStrokeColor": "#444444", "symbolStrokeWidth": 0.5}}}},
      {"data": {"name": "d3v"}, "transform": [{"filter": {"field": "g", "equal": "Codel"}}],
       "mark": {"type": "area", "orient": "horizontal", "interpolate": "monotone", "stroke": "#1a1a1a", "strokeWidth": 0.6},
       "encoding": {
         "y": {"field": "v", "type": "quantitative"},
         "x": {"field": "w", "type": "quantitative", "stack": "center", "scale": {"domain": [-71.85, 60.15], "nice": false, "zero": false}, "axis": null},
         "color": {"field": "g", "type": "nominal", "legend": {"title": "X1p19q_codeletion_status", "titleOrient": "top", "titleAnchor": "start", "titlePadding": 1, "symbolType": "square", "symbolSize": 100, "symbolStrokeColor": "#444444", "symbolStrokeWidth": 0.5}}}},
      {"layer": [
        {"data": {"name": "d3b"}, "mark": {"type": "rule", "color": "#111111", "strokeWidth": 0.8}, "encoding": {
          "x": {"field": "g", "type": "nominal", "sort": null, "scale": {"domain": ["Non−codel", "Codel"], "paddingInner": 0, "paddingOuter": 0.1}, "axis": {"title": null, "labelAngle": 0, "labelFontSize": 12}},
          "y": {"field": "lo", "type": "quantitative"}, "y2": {"field": "hi"}}},
        {"data": {"name": "d3b"}, "mark": {"type": "bar", "width": {"band": 0.2}, "stroke": "#111111", "strokeWidth": 0.8}, "encoding": {
          "x": {"field": "g", "type": "nominal", "sort": null},
          "y": {"field": "q1", "type": "quantitative"}, "y2": {"field": "q3"},
          "color": {"field": "g", "type": "nominal", "legend": null}}},
        {"data": {"name": "d3b"}, "mark": {"type": "tick", "orient": "horizontal", "size": 12, "thickness": 1.6, "color": "#111111", "opacity": 1}, "encoding": {
          "x": {"field": "g", "type": "nominal", "sort": null},
          "y": {"field": "med", "type": "quantitative"}}},
        {"data": {"name": "d3o"}, "mark": {"type": "point", "filled": true, "size": 6, "color": "#111111", "opacity": 1}, "encoding": {
          "x": {"field": "g", "type": "nominal", "sort": null},
          "y": {"field": "v", "type": "quantitative"}}}
      ]},
      {"data": {"name": "d3t"}, "mark": {"type": "text", "fontSize": 11.5},
       "encoding": {"x": {"datum": 0.43, "type": "quantitative", "scale": {"domain": [0, 1], "nice": false}, "axis": null}, "y": {"field": "ly", "type": "quantitative"}, "text": {"field": "label"}}}
     ]}
  ]}
  ]
},
{
  "spacing": 0,
  "resolve": {"scale": {"color": "independent", "strokeDash": "independent", "x": "independent", "y": "independent"}, "legend": {"color": "independent", "strokeDash": "independent"}},
  "hconcat": [
  {"width": 1, "height": 1, "data": {"name": "sp"}, "mark": {"type": "text"}, "encoding": {"text": {"field": "s"}}},
  {
  "spacing": 10,
  "resolve": {"scale": {"color": "independent", "strokeDash": "independent", "x": "independent", "y": "independent"}, "legend": {"color": "independent", "strokeDash": "independent"}},
  "hconcat": [
    {
      "title": {"text": "e", "anchor": "start", "frame": "group", "fontSize": 17, "fontWeight": "bold", "dx": -107, "offset": -16},
      "spacing": 0,
      "resolve": {"scale": {"color": "independent", "strokeDash": "independent", "x": "independent", "y": "independent"}, "legend": {"color": "independent", "strokeDash": "independent"}},
      "vconcat": [
        {"width": 1, "height": 1, "data": {"name": "sp"}, "mark": {"type": "text"}, "encoding": {"text": {"field": "s"}}},
        {"title": {"text": "CGGA−glioma OS", "anchor": "start", "frame": "group"},
         "width": 200, "height": 126, "view": {"stroke": "#8a8a8a"},
         "layer": [
          {"data": {"name": "km"}, "mark": {"type": "line", "interpolate": "step-after", "strokeWidth": 1.6},
           "encoding": {
             "x": {"field": "t", "type": "quantitative", "scale": {"domain": [-230, 5200], "nice": false, "zero": false}, "axis": {"values": [0, 1000, 2000, 3000, 4000, 5000], "format": "d", "labelOverlap": false, "title": "Time", "grid": true, "gridColor": "#ebebeb", "domain": false, "labelFontSize": 11, "titleFontSize": 12, "titlePadding": -1, "labelPadding": 1}},
             "y": {"field": "s", "type": "quantitative", "scale": {"domain": [-0.05, 1.05], "nice": false, "zero": false}, "axis": {"values": [0, 0.25, 0.5, 0.75, 1], "format": ".2f", "labelOverlap": false, "title": "Survival probability", "grid": true, "gridColor": "#ebebeb", "domain": false, "labelFontSize": 11, "titleFontSize": 11, "titlePadding": 8}},
             "color": {"field": "grp", "type": "nominal", "scale": {"domain": ["High−expression", "Low−expression"], "range": ["#F21D1D", "#4455B0"]}, "legend": {"title": "CD9 group", "offset": 6, "symbolType": "stroke", "symbolStrokeWidth": 2.2, "symbolSize": 220, "columnPadding": 8}},
             "strokeDash": {"field": "grp", "type": "nominal", "scale": {"domain": ["High−expression", "Low−expression"], "range": [[1, 0], [4, 3]]}, "legend": {"title": "CD9 group", "offset": 6, "symbolType": "stroke", "symbolStrokeWidth": 2.2, "symbolSize": 220, "columnPadding": 8}}
           }},
          {"data": {"name": "kmc"}, "mark": {"type": "point", "shape": "M-1,0L1,0M0,-1L0,1", "size": 22, "filled": false, "strokeWidth": 1, "opacity": 1},
           "encoding": {
             "x": {"field": "t", "type": "quantitative", "axis": {"values": [0, 1000, 2000, 3000, 4000, 5000], "format": "d", "labelOverlap": false, "title": "Time", "grid": true, "gridColor": "#ebebeb", "domain": false, "labelFontSize": 11, "titleFontSize": 12, "titlePadding": -1, "labelPadding": 1}},
             "y": {"field": "s", "type": "quantitative"},
             "color": {"field": "grp", "type": "nominal", "legend": null}
           }},
          {"data": {"name": "kmp"}, "mark": {"type": "text", "fontSize": 12},
           "encoding": {"x": {"datum": 780, "type": "quantitative", "axis": {"values": [0, 1000, 2000, 3000, 4000, 5000], "format": "d", "labelOverlap": false, "title": "Time", "grid": true, "gridColor": "#ebebeb", "domain": false, "labelFontSize": 11, "titleFontSize": 12, "titlePadding": -1, "labelPadding": 1}}, "y": {"datum": 0.2, "type": "quantitative"}, "text": {"field": "label"}}}
         ]},
        {"title": {"text": "Number at risk", "anchor": "start", "frame": "group", "offset": 1},
         "width": 200, "height": 27, "view": {"stroke": "#222222"},
         "data": {"name": "risk"},
         "mark": {"type": "text", "fontSize": 11},
         "encoding": {
           "x": {"field": "t", "type": "quantitative", "scale": {"domain": [-230, 5200], "nice": false, "zero": false}, "axis": {"values": [0, 1000, 2000, 3000, 4000, 5000], "format": "d", "labelOverlap": false, "title": "Time", "domain": false, "labelFontSize": 11, "titleFontSize": 12, "titlePadding": -1, "labelPadding": 1}},
           "y": {"field": "grp", "type": "nominal", "scale": {"domain": ["High−expression", "Low−expression"]}, "axis": {"title": "CD9 group", "titleY": 22, "domain": false, "labelFontSize": 11.5, "titleFontSize": 11.5, "labelPadding": 3, "labelColor": {"condition": {"test": "datum.value == 'High−expression'", "value": "#F21D1D"}, "value": "#4455B0"}}},
           "text": {"field": "n", "type": "quantitative"},
           "color": {"field": "grp", "type": "nominal", "scale": {"domain": ["High−expression", "Low−expression"], "range": ["#F21D1D", "#4455B0"]}, "legend": null}
         }}
      ]
    },
    {
      "title": {"text": "f", "anchor": "start", "frame": "group", "fontSize": 17, "fontWeight": "bold", "dx": -72, "offset": -16},
      "spacing": 0,
      "vconcat": [
        {"width": 1, "height": 1, "data": {"name": "sp"}, "mark": {"type": "text"}, "encoding": {"text": {"field": "s"}}},
        {"title": {"text": "CD9", "offset": 3},
         "width": 176, "height": 178, "view": {"stroke": "#222222"},
         "resolve": {"axis": {"x": "independent"}},
         "layer": [
          {"data": {"name": "diag"}, "mark": {"type": "line", "color": "#c9c9c9", "strokeWidth": 1},
           "encoding": {
             "x": {"field": "fpr", "type": "quantitative", "scale": {"domain": [-0.04, 1.04], "nice": false, "zero": false}, "axis": {"values": [0, 0.2, 0.4, 0.6, 0.8, 1], "format": ".1f", "labelOverlap": false, "title": "1 − Specificity", "domain": false, "tickSize": 5, "labelPadding": 7, "titlePadding": 8, "labelFontSize": 11.5}},
             "y": {"field": "tpr", "type": "quantitative", "scale": {"domain": [-0.04, 1.04], "nice": false, "zero": false}, "axis": {"values": [0, 0.2, 0.4, 0.6, 0.8, 1], "format": ".1f", "labelOverlap": false, "title": "Sensitivity", "domain": false, "tickSize": 5, "grid": true, "gridDash": [1, 2], "gridColor": "#9a9a9a", "labelAngle": -90, "labelAlign": "center", "labelBaseline": "bottom", "labelPadding": 4, "titlePadding": 6, "labelFontSize": 11.5}}
           }},
          {"data": {"name": "roc"}, "mark": {"type": "line", "interpolate": "step-after", "color": "#EC3B64", "strokeWidth": 2},
           "encoding": {
             "x": {"field": "fpr", "type": "quantitative", "axis": null},
             "y": {"field": "tpr", "type": "quantitative"}
           }},
          {"data": {"name": "auc"}, "mark": {"type": "text", "color": "#EC3B64", "fontSize": 12},
           "encoding": {"x": {"datum": 0.76, "type": "quantitative", "axis": null}, "y": {"datum": 0.47, "type": "quantitative"}, "text": {"field": "label"}}},
          {"data": {"name": "diag"}, "mark": {"type": "point", "opacity": 0},
           "encoding": {
             "x": {"field": "fpr", "type": "quantitative", "axis": {"orient": "top", "values": [0, 0.5, 1], "grid": true, "gridDash": [1, 2], "gridColor": "#9a9a9a", "labels": false, "ticks": false, "domain": false, "title": null}},
             "y": {"field": "tpr", "type": "quantitative"}
           }}
         ]}
      ]
    }
  ]}
  ]
}
]
}
